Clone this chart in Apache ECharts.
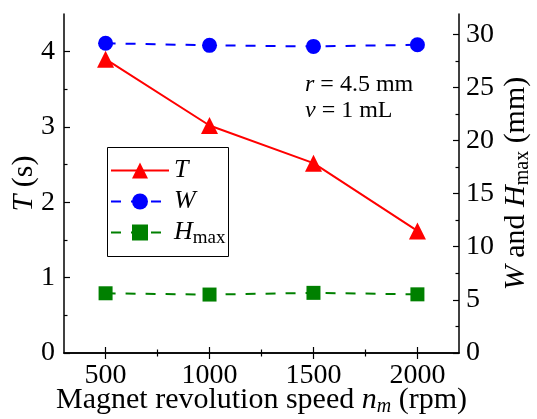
<!DOCTYPE html>
<html><head><meta charset="utf-8">
<script src="https://cdn.jsdelivr.net/npm/echarts@6/dist/echarts.min.js"></script>
<style>html,body{margin:0;padding:0;background:#fff}#c{width:537px;height:419px}</style>
</head><body><div id="c"></div>
<script>
var speeds = [500, 1000, 1500, 2000];
var valuesT = [3.90, 3.02, 2.52, 1.62];
var valuesW = [29.15, 28.95, 28.85, 29.0];
var valuesH = [5.62, 5.50, 5.66, 5.52];
var xMajor = [500, 1000, 1500, 2000];
var xMinor = [750, 1250, 1750];
var yLeftMajor = [0, 1, 2, 3, 4];
var yLeftMinor = [0.5, 1.5, 2.5, 3.5];
var yRightMajor = [0, 5, 10, 15, 20, 25, 30];
var yRightMinor = [2.5, 7.5, 12.5, 17.5, 22.5, 27.5];

var FF = 'Liberation Serif';
var FS = 28;   // tick labels
var TS = 30;   // axis titles
var gridRect = {left: 64, top: 14, width: 395, height: 339, outerBoundsMode: 'none', containLabel: false, show: false};
function pairs(xs, ys) { return xs.map(function (x, i) { return [x, ys[i]]; }); }
function plain(v) { return String(v); }

function baseAxis(extra) {
  var o = {
    type: 'value', splitLine: {show: false}, nameMoveOverlap: false,
    axisLine: {show: true, lineStyle: {color: '#000', width: 1.5}},
    axisLabel: {show: false}, axisTick: {show: false}
  };
  for (var k in extra) o[k] = extra[k];
  return o;
}
var chart = echarts.init(document.getElementById('c'), null, {renderer: 'canvas'});
var xr = {min: 300, max: 2200};
var lr = {min: 0, max: 4.5};
var rr = {min: 0, max: 31.9};
function tick(vals, len) { return {show: true, inside: true, length: len, customValues: vals, lineStyle: {color: '#000', width: 1.2}}; }
function lbl(vals, margin) { return {show: true, customValues: vals, margin: margin, color: '#000', fontFamily: FF, fontSize: FS, formatter: plain}; }

var option = {
  animation: false,
  grid: [Object.assign({}, gridRect), Object.assign({}, gridRect)],
  xAxis: [
    baseAxis({gridIndex: 0, position: 'bottom', min: xr.min, max: xr.max, axisTick: tick(xMajor, 6),
      axisLabel: lbl(xMajor, 9),
      name: 'Magnet revolution speed {i|n}{sub|m} (rpm)', nameLocation: 'middle', nameGap: 30,
      nameTextStyle: {color: '#000', fontFamily: FF, fontSize: TS,
        rich: {i: {fontFamily: FF, fontSize: TS, fontStyle: 'italic', color: '#000'},
               sub: {fontFamily: FF, fontSize: 20, fontStyle: 'italic', color: '#000', padding: [14, 0, 0, 0]}}}}),
    baseAxis({gridIndex: 0, position: 'top', min: xr.min, max: xr.max, axisTick: tick(xMajor, 6)}),
    baseAxis({gridIndex: 1, position: 'bottom', min: xr.min, max: xr.max, axisTick: tick(xMinor, 3.5), axisLine: {show: false}}),
    baseAxis({gridIndex: 1, position: 'top', min: xr.min, max: xr.max, axisTick: tick(xMinor, 3.5), axisLine: {show: false}})
  ],
  yAxis: [
    baseAxis({gridIndex: 0, position: 'left', min: lr.min, max: lr.max, axisTick: tick(yLeftMajor, 6),
      axisLabel: lbl(yLeftMajor, 9),
      name: '{i|T} (s)', nameLocation: 'middle', nameGap: 25, nameRotate: 90,
      nameTextStyle: {color: '#000', fontFamily: FF, fontSize: TS,
        rich: {i: {fontFamily: FF, fontSize: TS, fontStyle: 'italic', color: '#000'}}}}),
    baseAxis({gridIndex: 0, position: 'right', min: rr.min, max: rr.max, axisTick: tick(yRightMajor, 6),
      axisLabel: lbl(yRightMajor, 7),
      name: '{i|W} and {i|H}{sub|max} (mm)', nameLocation: 'middle', nameGap: 40, nameRotate: 90,
      nameTextStyle: {color: '#000', fontFamily: FF, fontSize: TS,
        rich: {i: {fontFamily: FF, fontSize: TS, fontStyle: 'italic', color: '#000'},
               sub: {fontFamily: FF, fontSize: 20, color: '#000', padding: [14, 0, 0, 0]}}}}),
    baseAxis({gridIndex: 1, position: 'left', min: lr.min, max: lr.max, axisTick: tick(yLeftMinor, 3.5), axisLine: {show: false}}),
    baseAxis({gridIndex: 1, position: 'right', min: rr.min, max: rr.max, axisTick: tick(yRightMinor, 3.5), axisLine: {show: false}})
  ],
  legend: {
    orient: 'vertical', left: 110, top: 155,
    itemWidth: 58, itemHeight: 20, itemGap: 0,
    padding: 0,
    data: ['T', 'W', 'H'],
    formatter: function (n) {
      if (n === 'H') return '{i|H}{sub|max}';
      return '{i|' + n + '}{sub| }';
    },
    textStyle: {color: '#000', fontFamily: FF, fontSize: 26, lineHeight: 20,
      rich: {i: {fontFamily: FF, fontSize: 26, fontStyle: 'italic', color: '#000', lineHeight: 20},
             sub: {fontFamily: FF, fontSize: 19, color: '#000', lineHeight: 20, padding: [12, 0, 0, 0]}}}
  },
  graphic: [
    {type: 'rect', shape: {x: 107.5, y: 147.5, width: 121, height: 109}, style: {fill: 'none', stroke: '#000', lineWidth: 1}, silent: true},
    {type: 'text', left: 305, top: 73, style: {text: '{i|r} = 4.5 mm', fill: '#000', font: '24px "Liberation Serif"',
      rich: {i: {fontFamily: FF, fontSize: 24, fontStyle: 'italic', fill: '#000'}}}},
    {type: 'text', left: 305, top: 99, style: {text: '{i|v} = 1 mL', fill: '#000', font: '24px "Liberation Serif"',
      rich: {i: {fontFamily: FF, fontSize: 24, fontStyle: 'italic', fill: '#000'}}}}
  ],
  series: [
    {name: 'T', type: 'line', xAxisIndex: 0, yAxisIndex: 0, data: pairs(speeds, valuesT),
      symbol: 'triangle', symbolSize: 17, lineStyle: {color: '#ff0000', width: 2}, itemStyle: {color: '#ff0000'}},
    {name: 'W', type: 'line', xAxisIndex: 0, yAxisIndex: 1, data: pairs(speeds, valuesW),
      symbol: 'circle', symbolSize: 15, lineStyle: {color: '#0000ff', width: 2, type: [10, 10]}, itemStyle: {color: '#0000ff'}},
    {name: 'H', type: 'line', xAxisIndex: 0, yAxisIndex: 1, data: pairs(speeds, valuesH),
      symbol: 'rect', symbolSize: 14, lineStyle: {color: '#008000', width: 2, type: [10, 10]}, itemStyle: {color: '#008000'}}
  ]
};
chart.setOption(option);
</script></body></html>
